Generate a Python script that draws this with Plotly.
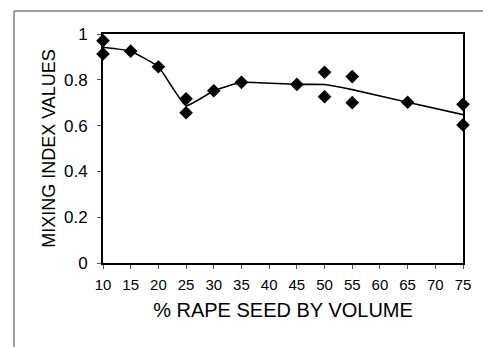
import plotly.graph_objects as go

# Measured mixing index values (two runs at some concentrations)
rape_seed_pct = [10, 10, 15, 20, 25, 25, 30, 35, 45, 50, 50, 55, 55, 65, 75, 75]
mixing_index = [0.971, 0.913, 0.925, 0.857, 0.717, 0.656, 0.752, 0.789,
                 0.780, 0.833, 0.726, 0.814, 0.700, 0.702, 0.693, 0.603]

x_ticks = [10, 15, 20, 25, 30, 35, 40, 45, 50, 55, 60, 65, 70, 75]
y_ticks = [0, 0.2, 0.4, 0.6, 0.8, 1]

# Trend line through the mean value at each concentration
levels = sorted(set(rape_seed_pct))
means = []
for lv in levels:
    vals = [m for p, m in zip(rape_seed_pct, mixing_index) if p == lv]
    means.append(sum(vals) / len(vals))

W, H = 483, 347
L, R, T, B = 103, 16, 34, 84
pw, ph = W - L - R, H - T - B

FONT = "Liberation Sans, Arial, sans-serif"

fig = go.Figure()
fig.add_trace(go.Scatter(
    x=levels, y=means, mode="lines",
    line=dict(color="black", width=1.6, shape="spline", smoothing=0.35),
    hoverinfo="skip", cliponaxis=False,
))
fig.add_trace(go.Scatter(
    x=rape_seed_pct, y=mixing_index, mode="markers",
    marker=dict(symbol="diamond", size=10.5, color="black"),
    cliponaxis=False,
))

# Outer chart frame (left and top edges)
fx0 = (13 - L) / pw
fx1 = (W + 5 - L) / pw
fy1 = 1 + (T - 11) / ph
fig.add_shape(type="line", xref="paper", yref="paper",
              x0=fx0, x1=fx0, y0=fy1, y1=-(B + 5) / ph,
              line=dict(color="#808080", width=1.5))
fig.add_shape(type="line", xref="paper", yref="paper",
              x0=fx0, x1=fx1, y0=fy1, y1=fy1,
              line=dict(color="#808080", width=1.5))

fig.update_layout(
    width=W, height=H,
    margin=dict(l=L, r=R, t=T, b=B),
    paper_bgcolor="white", plot_bgcolor="white",
    showlegend=False,
    font=dict(family=FONT, color="black"),
)
fig.update_xaxes(
    range=[10, 75], tickvals=x_ticks, ticktext=[str(v) for v in x_ticks],
    showgrid=False, zeroline=False,
    showline=True, linecolor="black", linewidth=2, mirror=True,
    ticks="outside", ticklen=4, tickcolor="#555555", tickwidth=1,
    tickfont=dict(size=15), ticklabelstandoff=3,
    title=dict(text="% RAPE SEED BY VOLUME", font=dict(size=20), standoff=11),
)
fig.update_yaxes(
    range=[0, 1], tickvals=y_ticks, ticktext=["0", "0.2", "0.4", "0.6", "0.8", "1"],
    showgrid=False, zeroline=False,
    showline=True, linecolor="black", linewidth=2, mirror=True,
    ticks="outside", ticklen=4, tickcolor="#555555", tickwidth=1,
    tickfont=dict(size=17), ticklabelstandoff=6,
    title=dict(text="MIXING INDEX VALUES", font=dict(size=18), standoff=4),
)

fig.write_html("out.html")
